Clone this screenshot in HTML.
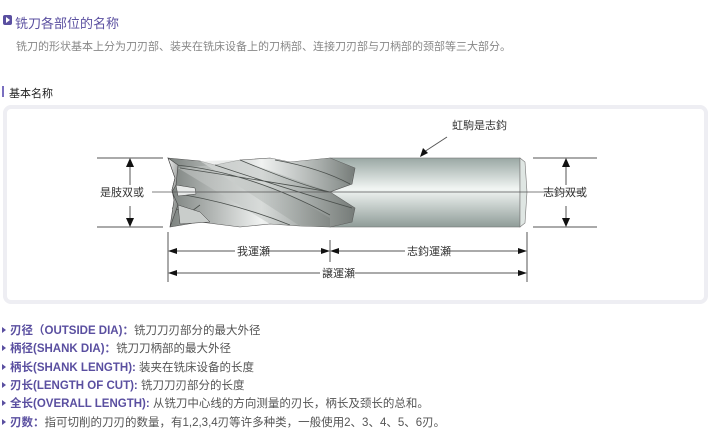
<!DOCTYPE html>
<html><head><meta charset="utf-8"><style>
body{margin:0;width:708px;height:445px;background:#fff;position:relative;overflow:hidden;font-family:"Liberation Sans","Noto Sans CJK SC",sans-serif;}
.a{position:absolute;white-space:nowrap;}
.t{left:15px;top:13px;font-size:13px;color:#5a4fa0;}
.ic{left:3px;top:15px;width:9px;height:10px;background:#5a4fa0;border-radius:2px;}
.ic:after{content:"";position:absolute;left:3px;top:2px;border-left:4px solid #fff;border-top:3px solid transparent;border-bottom:3px solid transparent;}
.d{left:16px;top:38px;font-size:11px;color:#888;}
.s{left:9px;top:85px;font-size:11px;color:#222;}
.bar{left:2px;top:86px;width:2px;height:11px;background:#7a6fc0;}
.box{left:3px;top:105px;width:697px;height:191px;border:4px solid #eeeef3;border-radius:8px;}
.li{left:2px;font-size:11.5px;color:#555;}
.li b{color:#5a4fa0;}
.li:before{content:"";display:inline-block;border-left:4px solid #5a4fa0;border-top:3px solid transparent;border-bottom:3px solid transparent;margin-right:4px;vertical-align:1px;}
</style></head><body>
<div class="a ic"></div>
<div class="a t">铣刀各部位的名称</div>
<div class="a d">铣刀的形状基本上分为刀刃部、装夹在铣床设备上的刀柄部、连接刀刃部与刀柄部的颈部等三大部分。</div>
<div class="a bar"></div>
<div class="a s">基本名称</div>
<div class="a box"></div>
<svg class="a" style="left:0;top:0" width="708" height="445">
<defs>
<linearGradient id="sh" x1="0" y1="0" x2="0" y2="1"><stop offset="0" stop-color="#9aa8a4"/><stop offset="0.45" stop-color="#f2f6f4"/><stop offset="1" stop-color="#8f9c98"/></linearGradient>
<linearGradient id="fl" x1="0" y1="0" x2="1" y2="0"><stop offset="0" stop-color="#7a807d"/><stop offset="0.5" stop-color="#f0f2f1"/><stop offset="1" stop-color="#7e8582"/></linearGradient>
<linearGradient id="fb" x1="0" y1="0" x2="1" y2="0"><stop offset="0" stop-color="#e8eae9"/><stop offset="0.6" stop-color="#a5aba8"/><stop offset="1" stop-color="#6d726f"/></linearGradient>
<linearGradient id="fl2" x1="0" y1="0" x2="1" y2="1"><stop offset="0" stop-color="#f5f5f5"/><stop offset="1" stop-color="#6d726f"/></linearGradient>
</defs>
<g stroke="#555" stroke-width="1" fill="none">
<line x1="97" y1="158" x2="163" y2="158"/><line x1="97" y1="227" x2="163" y2="227"/>
<line x1="533" y1="158" x2="597" y2="158"/><line x1="533" y1="227" x2="597" y2="227"/>
<line x1="130" y1="165" x2="130" y2="185"/><line x1="130" y1="206" x2="130" y2="220"/>
<line x1="566" y1="165" x2="566" y2="185"/><line x1="566" y1="206" x2="566" y2="220"/>
<line x1="168" y1="232" x2="168" y2="282"/><line x1="330" y1="240" x2="330" y2="262"/><line x1="527" y1="232" x2="527" y2="282"/>
<line x1="176" y1="251" x2="235" y2="251"/><line x1="268" y1="251" x2="322" y2="251"/>
<line x1="338" y1="251" x2="405" y2="251"/><line x1="450" y1="251" x2="519" y2="251"/>
<line x1="176" y1="273" x2="320" y2="273"/><line x1="355" y1="273" x2="519" y2="273"/>
<line x1="447" y1="137" x2="424" y2="152"/>
</g>
<rect x="330" y="158" width="190" height="69" fill="url(#sh)" stroke="#777" stroke-width="0.6"/>
<polygon points="520,158 525,162 527,192 525,223 520,227" fill="#dfe6e3" stroke="#777" stroke-width="0.6"/>
<!-- fluted body -->
<polygon points="168,158 200,161 215,165 240,160 270,158 290,162 330,158 355,168 352,184 330,192 355,208 352,222 330,227 300,226 270,224 240,227 200,222 170,227 175,200 172,190 175,178" fill="url(#fl)" stroke="#555" stroke-width="0.6"/>
<!-- helical bands -->
<polygon points="200,161 240,160 330,192 355,208 352,222 330,227 300,226" fill="url(#fb)" opacity="0.55"/>
<polygon points="178,168 215,165 300,200 330,218 330,227 270,224" fill="url(#fb)" opacity="0.35"/>
<polygon points="270,158 290,162 330,158 355,168 350,184 320,176" fill="url(#fb)" opacity="0.5"/>
<path d="M176,165 Q250,172 330,215 M185,195 Q240,205 290,225 M180,168 Q260,180 330,192 M215,165 Q290,190 352,208 M275,160 Q320,168 350,184 M240,160 Q300,185 330,192 M172,208 L200,215 M180,220 L200,205" stroke="#4a4f4c" stroke-width="0.8" fill="none"/>
<polygon points="168,158 178,165 176,185 172,192 178,205 170,227 174,200 172,190 175,178" fill="url(#fl2)" stroke="#444" stroke-width="0.6"/>
<polygon points="176,185 195,188 196,194 178,196" fill="#e8eae9" stroke="#444" stroke-width="0.5"/>
<polygon points="178,205 200,212 210,222 180,224" fill="#c9cdcb" stroke="#444" stroke-width="0.5"/>
<line x1="152" y1="192" x2="582" y2="192" stroke="#555" stroke-width="0.8"/>
<g fill="#111">
<polygon points="130,158 126,167 134,167"/><polygon points="130,227 126,218 134,218"/>
<polygon points="566,158 562,167 570,167"/><polygon points="566,227 562,218 570,218"/>
<polygon points="168,251 177,248 177,254"/><polygon points="330,251 321,248 321,254"/><polygon points="330,251 339,248 339,254"/><polygon points="527,251 518,248 518,254"/>
<polygon points="168,273 177,270 177,276"/><polygon points="527,273 518,270 518,276"/>
<polygon points="420,157 423,148 428,153"/>
</g>
<g font-size="11" fill="#333" font-family="'Liberation Sans','Noto Sans CJK SC',sans-serif">
<text x="100" y="196">是肢双或</text><text x="543" y="196">志鈞双或</text>
<text x="237" y="255">我運瀬</text><text x="407" y="255">志鈞運瀬</text>
<text x="322" y="277">譲運瀬</text><text x="452" y="129">虹駒是志鈞</text>
</g>
</svg>
<div class="a li" style="top:322px"><b>刃径（OUTSIDE DIA)：</b>铣刀刀刃部分的最大外径</div>
<div class="a li" style="top:340px"><b>柄径(SHANK DIA)：</b>铣刀刀柄部的最大外径</div>
<div class="a li" style="top:359px"><b>柄长(SHANK LENGTH):</b> 装夹在铣床设备的长度</div>
<div class="a li" style="top:377px"><b>刃长(LENGTH OF CUT):</b> 铣刀刀刃部分的长度</div>
<div class="a li" style="top:395px"><b>全长(OVERALL LENGTH):</b> 从铣刀中心线的方向测量的刃长，柄长及颈长的总和。</div>
<div class="a li" style="top:414px"><b>刃数：</b>指可切削的刀刃的数量，有1,2,3,4刃等许多种类，一般使用2、3、4、5、6刃。</div>
</body></html>
